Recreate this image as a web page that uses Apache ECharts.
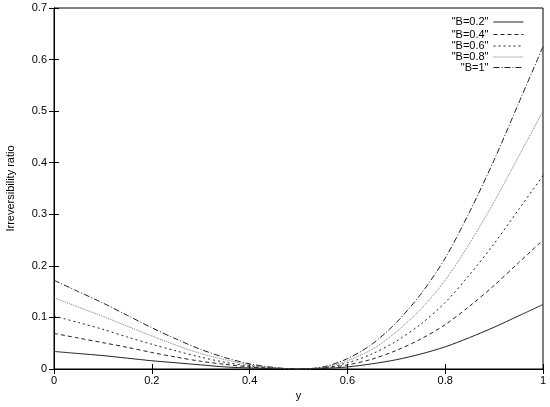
<!DOCTYPE html>
<html>
<head>
<meta charset="utf-8">
<script src="https://cdn.jsdelivr.net/npm/echarts@6/dist/echarts.min.js"></script>
<style>
html,body{margin:0;padding:0;background:#fff;}
#chart{width:550px;height:407px;}
</style>
</head>
<body>
<div id="chart"></div>
<script>
const xValues = [0,0.05,0.1,0.15,0.2,0.25,0.3,0.35,0.4,0.45,0.5,0.55,0.6,0.65,0.7,0.75,0.8,0.85,0.9,0.95,1];
const seriesNames = ['"B=0.2"','"B=0.4"','"B=0.6"','"B=0.8"','"B=1"'];
const b02 = [0.034,0.030,0.026,0.021,0.016,0.012,0.008,0.004,0.002,0.001,0,0.001,0.004,0.010,0.018,0.029,0.043,0.061,0.081,0.103,0.125];
const b04 = [0.069,0.060,0.051,0.042,0.032,0.023,0.015,0.009,0.004,0.001,0,0.002,0.008,0.019,0.036,0.058,0.086,0.122,0.162,0.206,0.250];
const b06 = [0.103,0.090,0.077,0.062,0.048,0.035,0.023,0.013,0.006,0.002,0,0.002,0.012,0.029,0.054,0.087,0.129,0.183,0.243,0.309,0.375];
const b08 = [0.138,0.120,0.102,0.083,0.064,0.046,0.030,0.018,0.008,0.002,0,0.003,0.016,0.038,0.072,0.116,0.172,0.244,0.324,0.412,0.500];
const b10 = [0.172,0.150,0.128,0.104,0.080,0.058,0.038,0.022,0.010,0.003,0,0.004,0.020,0.048,0.090,0.145,0.215,0.305,0.405,0.515,0.625];
const xTicks = [0,0.2,0.4,0.6,0.8,1];
const yTicks = [0,0.1,0.2,0.3,0.4,0.5,0.6,0.7];

const allValues = [b02,b04,b06,b08,b10];
const styles = [
  {type:'solid', color:'#222'},
  {type:[4,3], color:'#222'},
  {type:[2,3], color:'#222'},
  {type:[1,1], color:'#777'},
  {type:[6,2,1,2], color:'#222'}
];
const font = 'Liberation Sans, Arial, Helvetica, sans-serif';

const chart = echarts.init(document.getElementById('chart'), null, {renderer:'canvas'});
const series = allValues.map((vals,i)=>({
  name: seriesNames[i],
  type:'line',
  xAxisIndex:0, yAxisIndex:0,
  smooth:0.3,
  symbol:'none',
  lineStyle:{width:1, color:styles[i].color, type:styles[i].type},
  itemStyle:{color:styles[i].color},
  data: xValues.map((x,j)=>[x, vals[j]])
}));
const legendCenters = [18,30.5,42,53,63.5];
const legends = seriesNames.map((n,i)=>({
  data:[n],
  right:21,
  top:legendCenters[i]-6.5,
  align:'right',
  itemWidth:30,
  itemHeight:10,
  itemGap:6,
  itemStyle:{opacity:0},
  lineStyle:{width:1},
  textStyle:{fontFamily:font, fontSize:11, color:'#000', padding:[0,0,0,0]},
  selectedMode:false
}));
const xMin = xTicks[0], xMax = xTicks[xTicks.length-1];
const yMin = yTicks[0], yMax = yTicks[yTicks.length-1];
const axisCommon = {
  axisLine:{show:true, lineStyle:{color:'#000', width:1}},
  axisTick:{show:true, inside:true, length:5, lineStyle:{color:'#000', width:1}},
  splitLine:{show:false}
};
chart.setOption({
  animation:false,
  backgroundColor:'#fff',
  grid:{left:54, right:7, top:8, bottom:38, show:true, borderColor:'#000', borderWidth:1,
        containLabel:false, outerBoundsMode:'none'},
  legend: legends,
  xAxis:[
    Object.assign({type:'value', min:xMin, max:xMax, interval:0.2, position:'bottom',
      name:'y', nameLocation:'middle', nameGap:13,
      nameTextStyle:{fontFamily:font, fontSize:11, color:'#000'},
      axisLabel:{fontFamily:font, fontSize:11, color:'#000', margin:6,
        formatter:v=>String(Math.round(v*10)/10)}}, axisCommon),
    Object.assign({type:'value', min:xMin, max:xMax, interval:0.2, position:'top',
      axisLabel:{show:false}}, axisCommon)
  ],
  yAxis:[
    Object.assign({type:'value', min:yMin, max:yMax, interval:0.1, position:'left',
      name:'Irreversibility ratio', nameLocation:'middle', nameGap:38,
      nameTextStyle:{fontFamily:font, fontSize:11, color:'#000'},
      axisLabel:{fontFamily:font, fontSize:11, color:'#000', margin:7,
        formatter:v=>String(Math.round(v*10)/10)}}, axisCommon),
    Object.assign({type:'value', min:yMin, max:yMax, interval:0.1, position:'right',
      axisLabel:{show:false}}, axisCommon)
  ],
  series: series
});
</script>
</body>
</html>
